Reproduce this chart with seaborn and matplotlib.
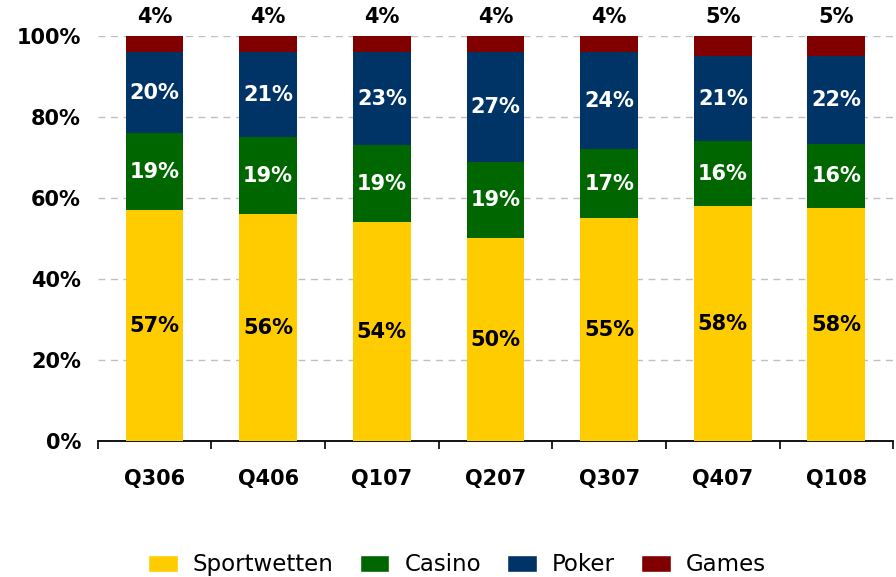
import numpy as np
import pandas as pd
import matplotlib
matplotlib.use("Agg")
import matplotlib.pyplot as plt
import seaborn as sns
from matplotlib.patches import Patch

# data (percent shares per quarter)
quarters = ["Q306", "Q406", "Q107", "Q207", "Q307", "Q407", "Q108"]
sportwetten = [57, 56, 54, 50, 55, 58, 58]
casino = [19, 19, 19, 19, 17, 16, 16]
poker = [20, 21, 23, 27, 24, 21, 22]
games = [4, 4, 4, 4, 4, 5, 5]

series = ["Sportwetten", "Casino", "Poker", "Games"]
colors = ["#FFCC00", "#006600", "#003366", "#800000"]
label_colors = ["black", "white", "white", "black"]

df = pd.DataFrame({"quarter": quarters, "Sportwetten": sportwetten,
                   "Casino": casino, "Poker": poker, "Games": games})
# rounded shares don't always sum to 100, so scale to the total
share = df[series].div(df[series].sum(axis=1), axis=0) * 100
cum = share.cumsum(axis=1)

sns.set_style("white")
plt.rcParams["font.family"] = ["DejaVu Sans"]
plt.rcParams["text.color"] = "black"
plt.rcParams["xtick.color"] = "black"
plt.rcParams["ytick.color"] = "black"

fig = plt.figure(figsize=(8.96, 5.77), dpi=100)
ax = fig.add_axes([0.109, 0.2357, 0.888, 0.702])

# draw from top layer down so each layer covers the one above
for s, c in reversed(list(zip(series, colors))):
    sns.barplot(x=df["quarter"], y=cum[s], color=c, width=0.51,
                saturation=1, linewidth=0, ax=ax, zorder=3)

fs = 15
# segment labels
for i in range(len(quarters)):
    for j, (s, tc) in enumerate(zip(series[:3], label_colors[:3])):
        lo = cum.loc[i, series[j - 1]] if j > 0 else 0
        mid = (lo + cum.loc[i, s]) / 2
        ax.text(i, mid, f"{df.loc[i, s]}%", ha="center", va="center",
                color=tc, fontsize=fs, fontweight="bold", zorder=5)
    ax.text(i, 104.7, f"{df.loc[i, 'Games']}%", ha="center", va="center",
            color="black", fontsize=fs, fontweight="bold", clip_on=False)

ax.set_ylim(0, 100)
ax.set_xlim(-0.5, len(quarters) - 0.5)
ax.set_yticks(np.arange(0, 101, 20))
ax.set_yticklabels([f"{t}%" for t in range(0, 101, 20)],
                   fontsize=fs, fontweight="bold")
ax.set_xticks(range(len(quarters)))
ax.set_xticklabels(quarters, fontsize=fs, fontweight="bold")
ax.tick_params(axis="x", which="major", length=0, pad=20)
ax.set_xticks(np.arange(-0.5, len(quarters)), minor=True)
ax.tick_params(axis="x", which="minor", bottom=True, length=6, width=1.2,
               color="black", direction="out")
ax.tick_params(axis="y", length=0, pad=12)
ax.set_xlabel("")
ax.set_ylabel("")

for y in range(20, 101, 20):
    ax.axhline(y, color="#c0c0c0", lw=1, ls=(0, (5, 4)), zorder=1)

for side in ["left", "right", "top"]:
    ax.spines[side].set_visible(False)
ax.spines["bottom"].set_color("black")
ax.spines["bottom"].set_linewidth(1.3)

handles = [Patch(facecolor=c, label=s) for s, c in zip(series, colors)]
fig.legend(handles=handles, loc="center", bbox_to_anchor=(0.51, 0.021),
           ncol=4, frameon=False, fontsize=16.5, handlelength=1.3,
           handleheight=0.8, columnspacing=1.15, handletextpad=0.65,
           borderpad=0)

fig.savefig("out.png", dpi=100)
